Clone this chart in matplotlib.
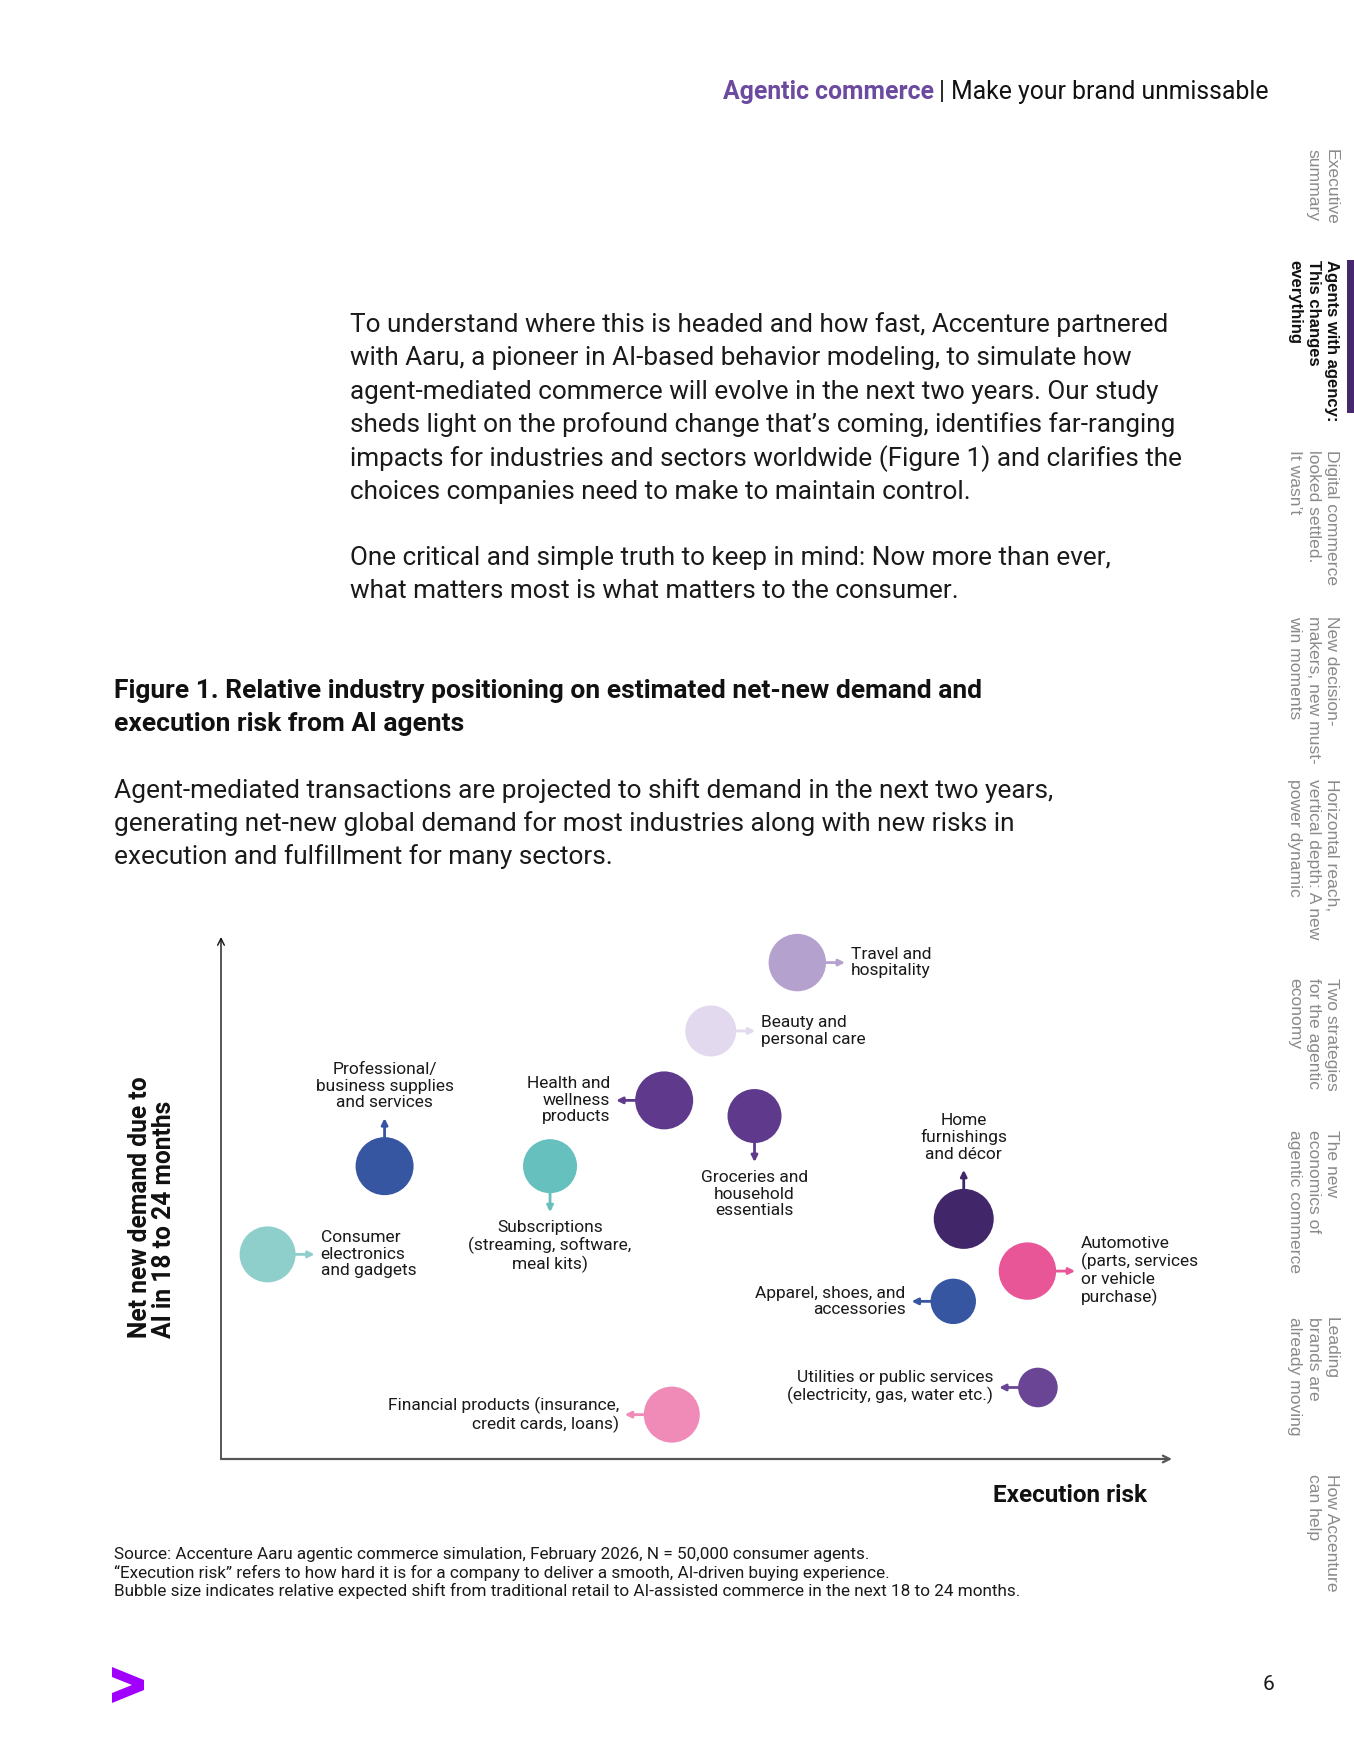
import matplotlib.pyplot as plt
from matplotlib.patches import Polygon, Rectangle
from matplotlib.transforms import offset_copy

W, H = 1354, 1753

# chart data (axes run 0-100 on both scales)
industries = ['Travel and\nhospitality', 'Beauty and\npersonal care',
              'Health and\nwellness\nproducts', 'Groceries and\nhousehold\nessentials',
              'Professional/\nbusiness supplies\nand services',
              'Subscriptions\n(streaming, software,\nmeal kits)',
              'Consumer\nelectronics\nand gadgets', 'Home\nfurnishings\nand décor',
              'Automotive\n(parts, services\nor vehicle\npurchase)',
              'Apparel, shoes, and\naccessories',
              'Utilities or public services\n(electricity, gas, water etc.)',
              'Financial products (insurance,\ncredit cards, loans)']
execution_risk = [60.6, 51.5, 46.6, 56.1, 17.2, 34.6, 4.9, 78.1, 84.8, 77.0, 85.9, 47.4]
net_new_demand = [95.1, 82.0, 68.7, 65.7, 56.1, 56.1, 39.2, 46.0, 36.0, 30.2, 13.7, 8.5]
bubble_size = [28.7, 25.5, 29, 27, 29, 27, 28, 30, 28.7, 22.7, 19.8, 28]
label_side = ['right', 'right', 'left', 'down', 'up', 'down', 'right', 'up', 'right', 'left', 'left', 'left']
colors = ['#b4a1ce', '#e2d9ee', '#5f3a8c', '#5f3a8c', '#3656a2', '#66c0bd',
          '#8fcfcb', '#42266a', '#e85698', '#3656a2', '#6a4596', '#f08bb8']

para1 = ["To understand where this is headed and how fast, Accenture partnered",
         "with Aaru, a pioneer in AI-based behavior modeling, to simulate how",
         "agent-mediated commerce will evolve in the next two years. Our study",
         "sheds light on the profound change that\u2019s coming, identifies far-ranging",
         "impacts for industries and sectors worldwide (Figure 1) and clarifies the",
         "choices companies need to make to maintain control."]
para2 = ["One critical and simple truth to keep in mind: Now more than ever,",
         "what matters most is what matters to the consumer."]
title = ["Figure 1. Relative industry positioning on estimated net-new demand and",
         "execution risk from AI agents"]
desc = ["Agent-mediated transactions are projected to shift demand in the next two years,",
        "generating net-new global demand for most industries along with new risks in",
        "execution and fulfillment for many sectors."]
notes = ["Source: Accenture Aaru agentic commerce simulation, February 2026, N = 50,000 consumer agents.",
         "\u201cExecution risk\u201d refers to how hard it is for a company to deliver a smooth, AI-driven buying experience.",
         "Bubble size indicates relative expected shift from traditional retail to AI-assisted commerce in the next 18 to 24 months."]
nav = ['Executive\nsummary', 'Agents with agency:\nThis changes\neverything',
       'Digital commerce\nlooked settled.\nIt wasn\u2019t', 'New decision-\nmakers, new must-\nwin moments',
       'Horizontal reach,\nvertical depth: A new\npower dynamic', 'Two strategies\nfor the agentic\neconomy',
       'The new\neconomics of\nagentic commerce', 'Leading\nbrands are\nalready moving',
       'How Accenture\ncan help']
nav_top = [149, 260, 450, 616, 779, 978, 1130, 1317, 1474]
active = 1

body = 'Roboto'
ink = '#1a1a1a'

fig = plt.figure(figsize=(W / 100, H / 100), dpi=100)
ov = fig.add_axes([0, 0, 1, 1])
ov.set_xlim(0, W)
ov.set_ylim(H, 0)
ov.axis('off')

# header
t1 = ov.text(723, 92, 'Agentic commerce', fontsize=17.8, fontweight='bold', color='#6b4aa0',
             family=body, va='center', ha='left')
fig.canvas.draw()
bb = t1.get_window_extent()
x_end = ov.transData.inverted().transform((bb.x1, 0))[0]
ov.text(x_end + 5, 92, '| Make your brand unmissable', fontsize=17.8, color='#111111',
        family=body, va='center', ha='left')

for i, line in enumerate(para1):
    ov.text(350, 325 + i * 33.3, line, fontsize=18.8, color=ink, family=body, va='center')
for i, line in enumerate(para2):
    ov.text(350, 558 + i * 33.3, line, fontsize=18.8, color=ink, family=body, va='center')
for i, line in enumerate(title):
    ov.text(114, 691 + i * 33.5, line, fontsize=19, fontweight='bold', color='#111111',
            family=body, va='center')
for i, line in enumerate(desc):
    ov.text(114, 791 + i * 33, line, fontsize=18.9, color=ink, family=body, va='center')
for i, line in enumerate(notes):
    ov.text(114, 1554 + i * 18.5, line, fontsize=12.35, color=ink, family=body, va='center')

# side navigation
for i, (item, top) in enumerate(zip(nav, nav_top)):
    ov.text(1339, top, item, rotation=270, fontsize=12 if i == active else 12.6,
            family='Liberation Sans',
            fontweight='bold' if i == active else 'normal',
            color='#111111' if i == active else '#8a8a8a',
            ha='right', va='top', multialignment='left', linespacing=1.28)
ov.add_patch(Rectangle((1347, 260), 8, 153, color='#46286e', lw=0))

# footer
ov.add_patch(Polygon([(112, 1667), (144, 1680), (144, 1690), (112, 1703),
                      (112, 1693), (132, 1685), (112, 1677)], closed=True,
                     color='#a100ff', lw=0))
ov.text(1269, 1685, '6', fontsize=15, family=body, color=ink, ha='center', va='center')

# chart
ax = fig.add_axes([221 / W, 1 - 1459 / H, (1172 - 221) / W, (1459 - 937) / H])
ax.set_xlim(0, 100)
ax.set_ylim(0, 100)
ax.axis('off')
ax.annotate('', xy=(0, 1), xycoords='axes fraction', xytext=(0, 0), textcoords='axes fraction',
            arrowprops=dict(arrowstyle='->', color='#111111', lw=1.0, shrinkA=0, shrinkB=0,
                            mutation_scale=12))
ax.annotate('', xy=(1, 0), xycoords='axes fraction', xytext=(0, 0), textcoords='axes fraction',
            arrowprops=dict(arrowstyle='->', color='#555555', lw=1.6, shrinkA=0, shrinkB=0,
                            mutation_scale=12))

sizes = [(2 * r * 0.72) ** 2 for r in bubble_size]
ax.scatter(execution_risk, net_new_demand, s=sizes, c=colors, linewidths=0, zorder=3,
           clip_on=False)

dirs = {'right': (1, 0), 'left': (-1, 0), 'up': (0, 1), 'down': (0, -1)}
for name, x, y, r, side, c in zip(industries, execution_risk, net_new_demand,
                                  bubble_size, label_side, colors):
    dx, dy = dirs[side]
    start = offset_copy(ax.transData, fig=fig, x=dx * (r - 2), y=dy * (r - 2), units='dots')
    end = offset_copy(ax.transData, fig=fig, x=dx * (r + 19), y=dy * (r + 19), units='dots')
    ax.annotate('', xy=(x, y), xycoords=end, xytext=(x, y), textcoords=start,
                arrowprops=dict(arrowstyle='-|>', color=c, lw=2, shrinkA=0, shrinkB=0,
                                mutation_scale=9), zorder=2, annotation_clip=False)
    if side == 'right':
        kw = dict(xytext=(r + 25, 0), ha='left', va='center', multialignment='left')
    elif side == 'left':
        kw = dict(xytext=(-(r + 25), 0), ha='right', va='center', multialignment='right')
    elif side == 'up':
        kw = dict(xytext=(0, r + 27), ha='center', va='bottom', multialignment='center')
    else:
        kw = dict(xytext=(0, -(r + 27)), ha='center', va='top', multialignment='center')
    ax.annotate(name, xy=(x, y), textcoords='offset pixels', fontsize=12.5, family=body,
                color=ink, linespacing=1.13, annotation_clip=False, **kw)

ov.text(152, 1338, 'Net new demand due to\nAI in 18 to 24 months', rotation=90, fontsize=17.7,
        fontweight='bold', family=body, color='#111111', ha='center', va='bottom',
        multialignment='left', linespacing=1.05)
ov.text(1147, 1495, 'Execution risk', fontsize=17.5, fontweight='bold', family=body,
        color='#111111', ha='right', va='center')

fig.savefig('out.png', dpi=100)
